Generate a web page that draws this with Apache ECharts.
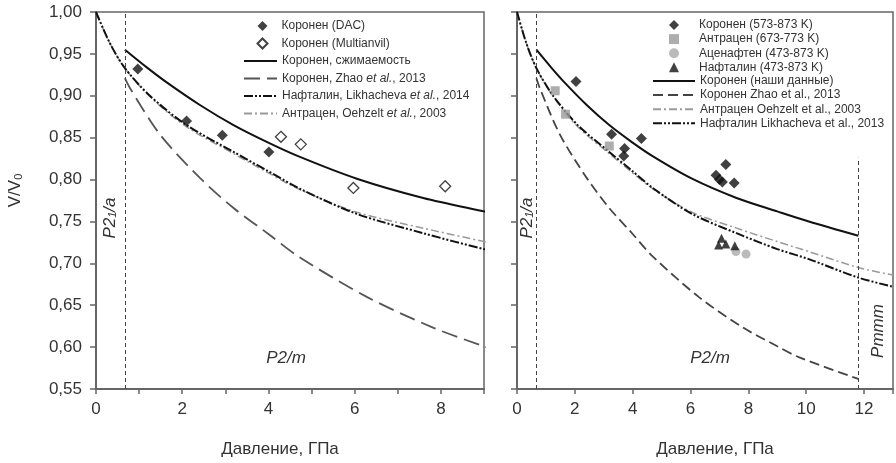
<!DOCTYPE html>
<html style="height: 100%">
<head>
<meta charset="utf-8">
<title>V/V0 — давление</title>
<script src="https://cdn.jsdelivr.net/npm/echarts@6/dist/echarts.min.js"></script>
</head>
<body style="height: 100%; margin: 0">
<div id="target" style="width: 896px; height: 463px"></div>
<script>
// points, [P (GPa), V/V0]
const coroneneDAC = [[0.97, 0.932], [2.10, 0.870], [2.93, 0.853], [4.01, 0.833]];
const coroneneMultianvil = [[4.29, 0.851], [4.75, 0.842], [5.97, 0.790], [8.10, 0.792]];

const coroneneHot = [[2.04, 0.917], [3.27, 0.854], [4.30, 0.849], [3.72, 0.837], [3.69, 0.828],
    [7.22, 0.818], [6.88, 0.805], [7.00, 0.800], [7.10, 0.797], [7.51, 0.796]];
const anthraceneHot = [[1.32, 0.906], [1.68, 0.878], [3.19, 0.840]];
const acenaphtheneHot = [[7.57, 0.714], [7.92, 0.711]];
const naphthaleneHot = [[6.97, 0.722], [7.07, 0.730], [7.22, 0.723], [7.53, 0.721]];

// curves
const coroneneFit = [[0.67, 0.955], [1.2, 0.933], [1.64, 0.916], [2.41, 0.889], [3.19, 0.865],
    [3.96, 0.845], [4.73, 0.827], [6.05, 0.801], [7.59, 0.778], [9.0, 0.762], [10.09, 0.750], [11.8, 0.733]];
const coroneneZhao = [[0.67, 0.921], [0.79, 0.909], [1.48, 0.854], [2.41, 0.802], [3.19, 0.766],
    [4.0, 0.735], [4.7, 0.708], [6.28, 0.660], [7.83, 0.623], [9.0, 0.601], [9.74, 0.588], [11.8, 0.562]];
const naphthaleneLikhacheva = [[0, 1.0], [0.32, 0.963], [0.67, 0.933], [1.25, 0.900], [2.10, 0.865], [3.19, 0.833],
    [3.96, 0.811], [4.73, 0.789], [6.05, 0.759], [7.59, 0.736], [9.0, 0.717], [10.09, 0.705], [11.8, 0.683], [13.0, 0.672]];
const anthraceneOehzelt = [[0, 1.0], [0.32, 0.963], [0.67, 0.933], [1.25, 0.899], [2.10, 0.863], [3.19, 0.831],
    [3.96, 0.809], [4.73, 0.788], [6.05, 0.761], [7.59, 0.742], [9.0, 0.726], [10.09, 0.714], [11.8, 0.695], [13.0, 0.686]];

// phase boundaries
const transitionLow = 0.67;
const transitionHigh = 11.8;
const transitionHighTop = 0.826;

const yTicks = { min: 0.55, max: 1.0, step: 0.05 };

const FONT = "'Liberation Sans', Arial, sans-serif";
const TXT = '#333';
const AX = '#666';

let chart = echarts.init(document.getElementById('target'));

let makeX = (gridIndex, max, step, name, pad) => ({
    type: 'value', gridIndex: gridIndex, min: 0, max: max, interval: step,
    name: name, nameLocation: 'middle', nameGap: 52,
    nameTextStyle: { fontSize: 17, color: TXT, fontFamily: FONT, padding: pad },
    axisLine: { lineStyle: { color: AX, width: 2 } },
    axisTick: { show: true, length: 5, lineStyle: { color: AX, width: 1.5 } },
    axisLabel: {
        fontSize: 17, color: TXT, fontFamily: FONT, margin: 12,
        formatter: v => (v % 2 === 0 ? String(v) : '')
    },
    splitLine: { show: false },
});

let makeY = (gridIndex, showLabels) => ({
    type: 'value', gridIndex: gridIndex, min: yTicks.min, max: yTicks.max, interval: yTicks.step,
    name: showLabels ? 'V/V{s|0}' : '', nameLocation: 'middle', nameGap: 72, nameRotate: 90,
    nameTextStyle: {
        fontSize: 17, color: TXT, fontFamily: FONT, padding: [0, 0, 0, 20],
        rich: { s: { fontSize: 11, color: TXT, fontFamily: FONT, verticalAlign: 'bottom' } }
    },
    axisLine: { lineStyle: { color: AX, width: 2 } },
    axisTick: { show: true, length: 6, lineStyle: { color: AX, width: 1.5 } },
    axisLabel: {
        show: showLabels, fontSize: 17, color: TXT, fontFamily: FONT, margin: 14,
        formatter: v => v.toFixed(2).replace('.', ',')
    },
    splitLine: { show: false },
});

let vLine = (x) => ({ xAxis: x });

let scatter = (name, data, idx, symbol, size, style) => ({
    type: 'scatter', name: name, data: data, xAxisIndex: idx, yAxisIndex: idx,
    symbol: symbol, symbolSize: size, itemStyle: style, z: 5,
});

let curve = (name, data, idx, color, width, dash) => ({
    type: 'line', name: name, data: data, xAxisIndex: idx, yAxisIndex: idx,
    symbol: 'none', smooth: 0.3, clip: true,
    lineStyle: { color: color, width: width, type: dash },
    itemStyle: { color: color },
});

let boundaryStyle = { color: '#444', width: 1, type: [4, 3] };

let leftFit = curve('Коронен, сжимаемость', coroneneFit, 0, '#111', 2, 'solid');
leftFit.markLine = {
    silent: true, symbol: 'none', label: { show: false }, lineStyle: boundaryStyle,
    data: [vLine(transitionLow)],
};
let rightFit = curve('Коронен (наши данные)', coroneneFit, 1, '#111', 2, 'solid');
rightFit.markLine = {
    silent: true, symbol: 'none', label: { show: false }, lineStyle: boundaryStyle,
    data: [
        vLine(transitionLow),
        [{ coord: [transitionHigh, yTicks.min] }, { coord: [transitionHigh, transitionHighTop] }],
    ],
};

let ddash = [9, 2, 2, 2, 2, 2];
let ddot = [8, 3, 2, 3];

let legendText = { fontSize: 12, color: TXT, fontFamily: FONT, lineHeight: 14 };
let italicRich = { i: { fontSize: 12, color: TXT, fontFamily: FONT, fontStyle: 'italic' } };
// line rows: hide the marker that the legend puts in the middle of the line
let lineOnly = { opacity: 0 };

let option = {
    animation: false,
    backgroundColor: '#fff',
    textStyle: { fontFamily: FONT },
    grid: [
        { left: 96, top: 12, width: 388, height: 380, show: true, borderColor: AX, borderWidth: 1.5 },
        { left: 517, top: 12, width: 378, height: 380, show: true, borderColor: AX, borderWidth: 1.5 },
    ],
    xAxis: [makeX(0, 9, 1, 'Давление, ГПа', [0, 20, 0, 0]), makeX(1, 13, 2, 'Давление, ГПа', [0, 0, 0, 20])],
    yAxis: [makeY(0, true), makeY(1, false)],
    legend: [
        {
            orient: 'vertical', left: 251.5, top: 14, itemWidth: 10, itemHeight: 10, itemGap: 3.5,
            data: ['Коронен (DAC)', 'Коронен (Multianvil)'],
            textStyle: Object.assign({ padding: [0, 0, 0, 9] }, legendText),
        },
        {
            orient: 'vertical', left: 238, top: 49, itemWidth: 33, itemHeight: 10, itemGap: 3.5,
            itemStyle: lineOnly,
            data: ['Коронен, сжимаемость', 'Коронен, Zhao et al., 2013',
                'Нафталин, Likhacheva et al., 2014', 'Антрацен, Oehzelt et al., 2003'],
            formatter: n => n.replace('et al.', '{i|et al.}'),
            textStyle: Object.assign({ rich: italicRich }, legendText),
        },
        {
            orient: 'vertical', left: 664, top: 13, itemWidth: 10, itemHeight: 10, itemGap: 0.1,
            data: ['Коронен (573-873 K)', 'Антрацен (673-773 K)', 'Аценафтен (473-873 K)', 'Нафталин (473-873 K)'],
            textStyle: Object.assign({ padding: [0, 0, 0, 15] }, legendText),
        },
        {
            orient: 'vertical', left: 647, top: 69, itemWidth: 42, itemHeight: 10, itemGap: 0.1,
            itemStyle: lineOnly,
            data: ['Коронен (наши данные)', 'Коронен Zhao et al., 2013', 'Антрацен Oehzelt et al., 2003',
                'Нафталин Likhacheva et al., 2013'],
            textStyle: legendText,
        },
    ],
    series: [
        curve('Антрацен, Oehzelt et al., 2003', anthraceneOehzelt, 0, '#9a9a9a', 1.5, ddot),
        curve('Нафталин, Likhacheva et al., 2014', naphthaleneLikhacheva, 0, '#111', 2, ddash),
        curve('Коронен, Zhao et al., 2013', coroneneZhao, 0, '#555', 1.8, [16, 7]),
        leftFit,
        scatter('Коронен (DAC)', coroneneDAC, 0, 'diamond', 11, { color: '#111' }),
        scatter('Коронен (Multianvil)', coroneneMultianvil, 0, 'diamond', 11,
            { color: '#fff', borderColor: '#111', borderWidth: 1.3 }),

        curve('Антрацен Oehzelt et al., 2003', anthraceneOehzelt, 1, '#9a9a9a', 1.5, ddot),
        curve('Нафталин Likhacheva et al., 2013', naphthaleneLikhacheva, 1, '#111', 2, ddash),
        curve('Коронен Zhao et al., 2013', coroneneZhao, 1, '#444', 1.8, [10, 5]),
        rightFit,
        scatter('Коронен (573-873 K)', coroneneHot, 1, 'diamond', 11, { color: '#111' }),
        scatter('Антрацен (673-773 K)', anthraceneHot, 1, 'rect', 9, { color: '#999' }),
        scatter('Аценафтен (473-873 K)', acenaphtheneHot, 1, 'circle', 9, { color: '#aaa' }),
        scatter('Нафталин (473-873 K)', naphthaleneHot, 1, 'triangle', 9, { color: '#111' }),
    ],
    graphic: [
        {
            type: 'text', x: 110, y: 218, rotation: Math.PI / 2,
            style: {
                text: '{a|P2}{b|1}{a|/a}', align: 'center', verticalAlign: 'middle',
                rich: {
                    a: { fontSize: 17, fontStyle: 'italic', fill: TXT, fontFamily: FONT, verticalAlign: 'bottom' },
                    b: { fontSize: 11, fontStyle: 'italic', fill: TXT, fontFamily: FONT, verticalAlign: 'bottom' },
                },
            },
        },
        {
            type: 'text', x: 527, y: 218, rotation: Math.PI / 2,
            style: {
                text: '{a|P2}{b|1}{a|/a}', align: 'center', verticalAlign: 'middle',
                rich: {
                    a: { fontSize: 17, fontStyle: 'italic', fill: TXT, fontFamily: FONT, verticalAlign: 'bottom' },
                    b: { fontSize: 11, fontStyle: 'italic', fill: TXT, fontFamily: FONT, verticalAlign: 'bottom' },
                },
            },
        },
        {
            type: 'text', x: 286, y: 358,
            style: { text: 'P2/m', align: 'center', verticalAlign: 'middle', fontSize: 17, fontStyle: 'italic', fill: TXT, fontFamily: FONT },
        },
        {
            type: 'text', x: 710, y: 358,
            style: { text: 'P2/m', align: 'center', verticalAlign: 'middle', fontSize: 17, fontStyle: 'italic', fill: TXT, fontFamily: FONT },
        },
        {
            type: 'text', x: 878, y: 331, rotation: Math.PI / 2,
            style: { text: 'Pmmm', align: 'center', verticalAlign: 'middle', fontSize: 17, fontStyle: 'italic', fill: TXT, fontFamily: FONT },
        },
    ],
};

chart.setOption(option);
</script>
</body>
</html>
